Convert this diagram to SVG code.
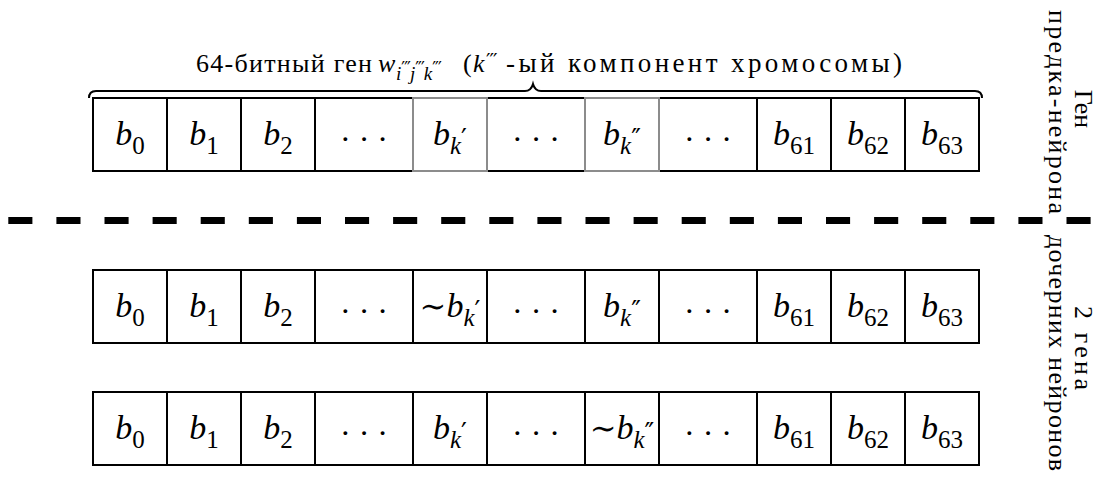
<svg xmlns="http://www.w3.org/2000/svg" width="1098" height="478" viewBox="0 0 1098 478">
  <style>
    .cell { fill: #fff; stroke: #000; stroke-width: 2; }
    .hl { stroke: #8c8c8c; }
    .t { font-family: "Liberation Serif", "DejaVu Serif", serif; text-anchor: middle; fill: #000; }
    .v { font-size: 34px; font-style: italic; }
    .s { font-size: 25px; font-style: normal; }
    .si { font-size: 25px; font-style: italic; }
    .p { font-family: "DejaVu Sans", sans-serif; font-size: 26px; font-style: normal; }
    .til { font-size: 32px; font-style: normal; }
    .dots { font-family: "Liberation Serif", serif; font-size: 32px; text-anchor: middle; }
    .lbl { font-family: "Liberation Serif", "DejaVu Serif", serif; font-size: 26px; fill: #000; }
    .it { font-style: italic; }
    .pr { font-family: "DejaVu Sans", sans-serif; font-style: normal; letter-spacing: -1px; }
    .side { font-family: "Liberation Serif", "DejaVu Serif", serif; font-size: 26px; text-anchor: middle; fill: #000; }
    .brace { fill: none; stroke: #000; stroke-width: 2; }
    .divider { fill: none; stroke: #000; stroke-width: 7; stroke-dasharray: 24.1 24; }
  </style>

  <!-- caption above the parent gene -->
  <g id="caption" class="lbl">
    <text x="196" y="72" textLength="176" lengthAdjust="spacing">64-битный ген</text>
    <text x="378" y="72" class="it">w</text>
    <text x="396" y="80" class="it" font-size="19">i<tspan class="pr" font-size="17" dy="-6">′′′</tspan><tspan dy="6">j</tspan><tspan class="pr" font-size="17" dy="-6">′′′</tspan><tspan dy="6">k</tspan><tspan class="pr" font-size="17" dy="-6">′′′</tspan></text>
    <text x="463" y="72">(</text>
    <text x="473" y="72" class="it">k</text>
    <text x="486" y="67" class="pr" font-size="20">′′′</text>
    <text x="506" y="72" font-size="27" textLength="396" lengthAdjust="spacing">-ый компонент хромосомы)</text>
  </g>

  <!-- brace and divider -->
  <g id="connectors">
    <path class="brace" d="M 89 98 Q 89 91 96 91 L 525 91 Q 531 91 533 84 Q 535 91 541 91 L 975 91 Q 982 91 982 98"/>
    <line class="divider" x1="8.3" y1="220.5" x2="1098" y2="220.5"/>
  </g>

  <!-- parent gene row -->
  <g id="row1">
    <g id="r1c0"><rect class="cell" x="93" y="98" width="74" height="73"/><text class="t" x="130" y="145"><tspan class="v">b</tspan><tspan class="s" dy="9">0</tspan></text></g>
    <g id="r1c1"><rect class="cell" x="167" y="98" width="74" height="73"/><text class="t" x="204" y="145"><tspan class="v">b</tspan><tspan class="s" dy="9">1</tspan></text></g>
    <g id="r1c2"><rect class="cell" x="241" y="98" width="74" height="73"/><text class="t" x="278" y="145"><tspan class="v">b</tspan><tspan class="s" dy="9">2</tspan></text></g>
    <g id="r1c3"><rect class="cell" x="315" y="98" width="98" height="73"/><text class="dots" x="364" y="150">· · ·</text></g>
    <g id="r1c8"><rect class="cell" x="487" y="98" width="98" height="73"/><text class="dots" x="536" y="150">· · ·</text></g>
    <g id="r1c10"><rect class="cell" x="659" y="98" width="98" height="73"/><text class="dots" x="708" y="150">· · ·</text></g>
    <g id="r1c61"><rect class="cell" x="757" y="98" width="74" height="73"/><text class="t" x="794" y="145"><tspan class="v">b</tspan><tspan class="s" dy="9">61</tspan></text></g>
    <g id="r1c62"><rect class="cell" x="831" y="98" width="74" height="73"/><text class="t" x="868" y="145"><tspan class="v">b</tspan><tspan class="s" dy="9">62</tspan></text></g>
    <g id="r1c63"><rect class="cell" x="905" y="98" width="74" height="73"/><text class="t" x="942" y="145"><tspan class="v">b</tspan><tspan class="s" dy="9">63</tspan></text></g>
    <g id="r1ck1"><rect class="cell hl" x="413" y="98" width="74" height="73"/><text class="t" x="450" y="145"><tspan class="v">b</tspan><tspan class="si" dy="9">k</tspan><tspan class="p" dy="-6">′</tspan></text></g>
    <g id="r1ck2"><rect class="cell hl" x="585" y="98" width="74" height="73"/><text class="t" x="622" y="145"><tspan class="v">b</tspan><tspan class="si" dy="9">k</tspan><tspan class="p" dy="-6">″</tspan></text></g>
  </g>

  <!-- first child gene: bit k' inverted -->
  <g id="row2">
    <g id="r2c0"><rect class="cell" x="93" y="270" width="74" height="73"/><text class="t" x="130" y="317"><tspan class="v">b</tspan><tspan class="s" dy="9">0</tspan></text></g>
    <g id="r2c1"><rect class="cell" x="167" y="270" width="74" height="73"/><text class="t" x="204" y="317"><tspan class="v">b</tspan><tspan class="s" dy="9">1</tspan></text></g>
    <g id="r2c2"><rect class="cell" x="241" y="270" width="74" height="73"/><text class="t" x="278" y="317"><tspan class="v">b</tspan><tspan class="s" dy="9">2</tspan></text></g>
    <g id="r2c3"><rect class="cell" x="315" y="270" width="98" height="73"/><text class="dots" x="364" y="322">· · ·</text></g>
    <g id="r2ck1"><rect class="cell" x="413" y="270" width="74" height="73"/><text class="t" x="450" y="317"><tspan class="til">∼</tspan><tspan class="v">b</tspan><tspan class="si" dy="9">k</tspan><tspan class="p" dy="-6">′</tspan></text></g>
    <g id="r2c8"><rect class="cell" x="487" y="270" width="98" height="73"/><text class="dots" x="536" y="322">· · ·</text></g>
    <g id="r2ck2"><rect class="cell" x="585" y="270" width="74" height="73"/><text class="t" x="622" y="317"><tspan class="v">b</tspan><tspan class="si" dy="9">k</tspan><tspan class="p" dy="-6">″</tspan></text></g>
    <g id="r2c10"><rect class="cell" x="659" y="270" width="98" height="73"/><text class="dots" x="708" y="322">· · ·</text></g>
    <g id="r2c61"><rect class="cell" x="757" y="270" width="74" height="73"/><text class="t" x="794" y="317"><tspan class="v">b</tspan><tspan class="s" dy="9">61</tspan></text></g>
    <g id="r2c62"><rect class="cell" x="831" y="270" width="74" height="73"/><text class="t" x="868" y="317"><tspan class="v">b</tspan><tspan class="s" dy="9">62</tspan></text></g>
    <g id="r2c63"><rect class="cell" x="905" y="270" width="74" height="73"/><text class="t" x="942" y="317"><tspan class="v">b</tspan><tspan class="s" dy="9">63</tspan></text></g>
  </g>

  <!-- second child gene: bit k'' inverted -->
  <g id="row3">
    <g id="r3c0"><rect class="cell" x="93" y="392" width="74" height="73"/><text class="t" x="130" y="439"><tspan class="v">b</tspan><tspan class="s" dy="9">0</tspan></text></g>
    <g id="r3c1"><rect class="cell" x="167" y="392" width="74" height="73"/><text class="t" x="204" y="439"><tspan class="v">b</tspan><tspan class="s" dy="9">1</tspan></text></g>
    <g id="r3c2"><rect class="cell" x="241" y="392" width="74" height="73"/><text class="t" x="278" y="439"><tspan class="v">b</tspan><tspan class="s" dy="9">2</tspan></text></g>
    <g id="r3c3"><rect class="cell" x="315" y="392" width="98" height="73"/><text class="dots" x="364" y="444">· · ·</text></g>
    <g id="r3ck1"><rect class="cell" x="413" y="392" width="74" height="73"/><text class="t" x="450" y="439"><tspan class="v">b</tspan><tspan class="si" dy="9">k</tspan><tspan class="p" dy="-6">′</tspan></text></g>
    <g id="r3c8"><rect class="cell" x="487" y="392" width="98" height="73"/><text class="dots" x="536" y="444">· · ·</text></g>
    <g id="r3ck2"><rect class="cell" x="585" y="392" width="74" height="73"/><text class="t" x="622" y="439"><tspan class="til">∼</tspan><tspan class="v">b</tspan><tspan class="si" dy="9">k</tspan><tspan class="p" dy="-6">″</tspan></text></g>
    <g id="r3c10"><rect class="cell" x="659" y="392" width="98" height="73"/><text class="dots" x="708" y="444">· · ·</text></g>
    <g id="r3c61"><rect class="cell" x="757" y="392" width="74" height="73"/><text class="t" x="794" y="439"><tspan class="v">b</tspan><tspan class="s" dy="9">61</tspan></text></g>
    <g id="r3c62"><rect class="cell" x="831" y="392" width="74" height="73"/><text class="t" x="868" y="439"><tspan class="v">b</tspan><tspan class="s" dy="9">62</tspan></text></g>
    <g id="r3c63"><rect class="cell" x="905" y="392" width="74" height="73"/><text class="t" x="942" y="439"><tspan class="v">b</tspan><tspan class="s" dy="9">63</tspan></text></g>
  </g>

  <!-- side labels, set vertically -->
  <g id="side-parent" class="side">
    <text transform="translate(1075,109) rotate(90)">Ген</text>
    <text transform="translate(1049,112) rotate(90)" textLength="204" lengthAdjust="spacing">предка-нейрона</text>
  </g>
  <g id="side-children" class="side">
    <text transform="translate(1075,348) rotate(90)" textLength="84" lengthAdjust="spacing">2 гена</text>
    <text transform="translate(1049,353) rotate(90)" textLength="236" lengthAdjust="spacing">дочерних нейронов</text>
  </g>
</svg>
